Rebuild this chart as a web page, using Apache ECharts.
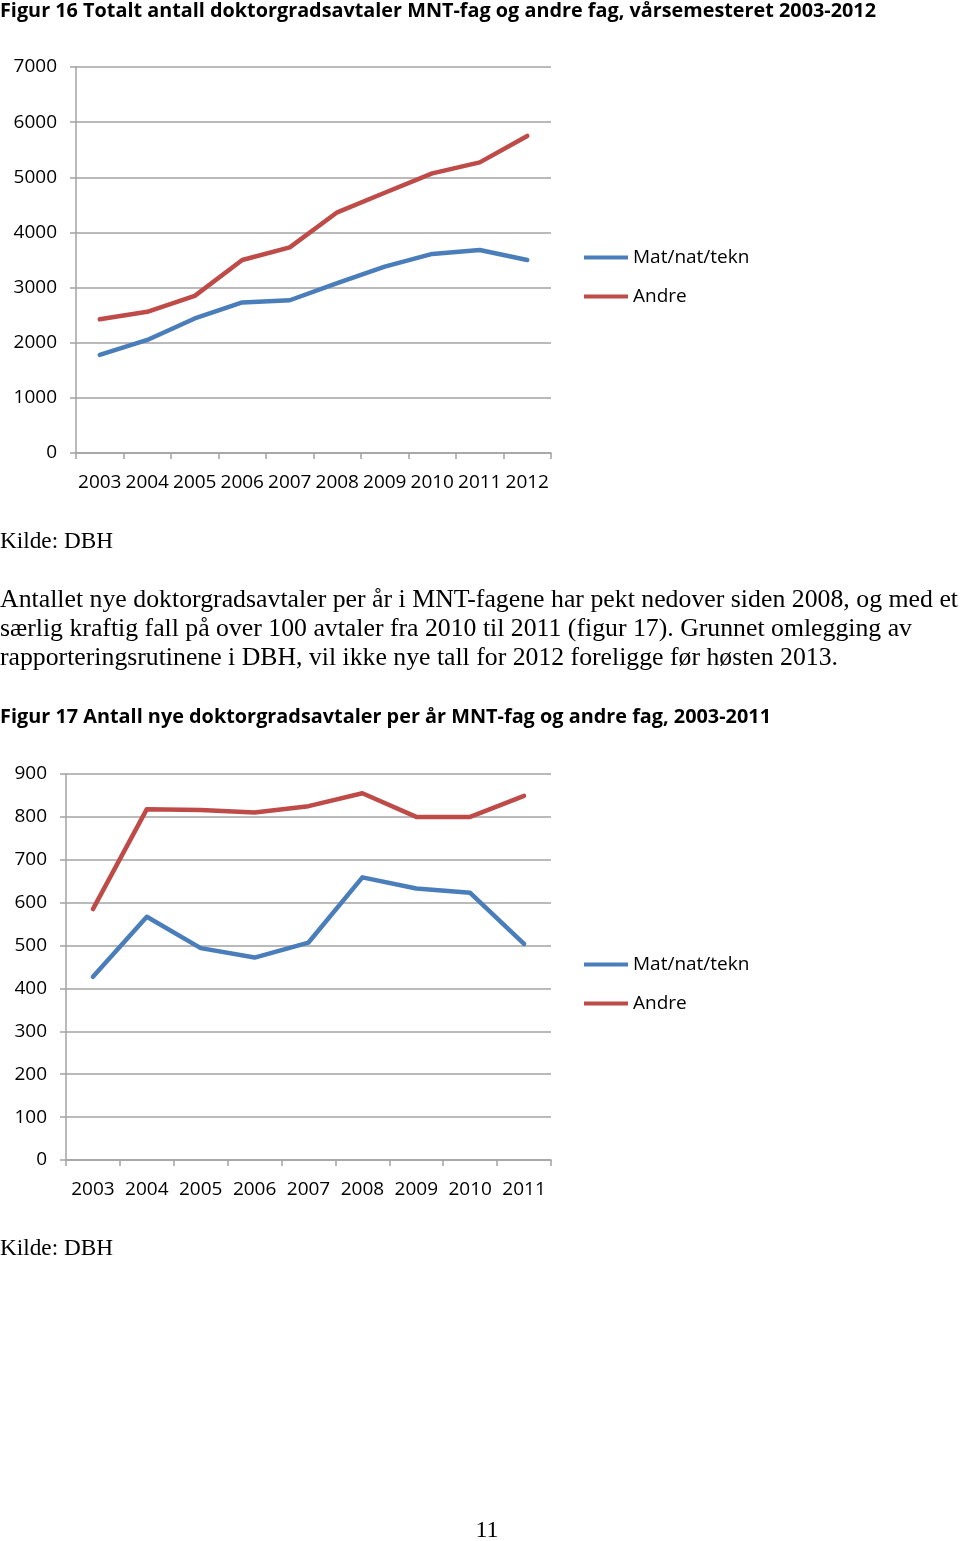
<!DOCTYPE html>
<html>
<head>
<meta charset="utf-8">
<script src="https://cdn.jsdelivr.net/npm/echarts@6/dist/echarts.min.js"></script>
<style>
html,body{margin:0;padding:0;background:#fff;}
#c{width:960px;height:1541px;}
</style>
</head>
<body>
<div id="c"></div>
<script>
// ---- data ----
const categories1 = ['2003','2004','2005','2006','2007','2008','2009','2010','2011','2012'];
const matnat1 = [1780, 2050, 2440, 2730, 2770, 3080, 3380, 3610, 3680, 3500];
const andre1  = [2425, 2560, 2850, 3500, 3730, 4365, 4720, 5070, 5270, 5750];
const yMax1 = 7000, yStep1 = 1000;

const categories2 = ['2003','2004','2005','2006','2007','2008','2009','2010','2011'];
const matnat2 = [427, 567, 494, 472, 507, 659, 633, 623, 504];
const andre2  = [585, 818, 816, 810, 825, 855, 800, 800, 849];
const yMax2 = 900, yStep2 = 100;

const seriesNames = ['Mat/nat/tekn', 'Andre'];

const title1 = 'Figur 16 Totalt antall doktorgradsavtaler MNT-fag og andre fag, vårsemesteret 2003-2012';
const title2 = 'Figur 17 Antall nye doktorgradsavtaler per år MNT-fag og andre fag, 2003-2011';
const bodyLines = [
  'Antallet nye doktorgradsavtaler per år i MNT-fagene har pekt nedover siden 2008, og med et',
  'særlig kraftig fall på over 100 avtaler fra 2010 til 2011 (figur 17). Grunnet omlegging av',
  'rapporteringsrutinene i DBH, vil ikke nye tall for 2012 foreligge før høsten 2013.'
];
const sourceText = 'Kilde: DBH';
const pageNumber = '11';

// ---- styling ----
const BLUE = '#4a7ebb', RED = '#be4b48', GRID = '#a3a3a3';
const axisFont = '"Open Sans", sans-serif';

const mc = document.createElement('canvas').getContext('2d');
function fitScale(text, font, width){ mc.font = font; return width / mc.measureText(text).width; }
function txt(text, x, y, font, width, align){
  const sx = width ? fitScale(text, font, width) : 1;
  return {type:'text', x:x, y:y, scaleX:sx, silent:true,
    style:{text:text, font:font, fill:'#000', align:align||'left', verticalAlign:'middle'}};
}
const titleFont = 'bold 20px "Open Sans", sans-serif';
const serifFont = '26px "Liberation Serif", serif';
const smallSerif = '24px "Liberation Serif", serif';
const graphics = [
  txt(title1, 0, 11, titleFont, 876),
  txt(title2, 0, 717, titleFont, 771),
  txt(sourceText, 0, 542, smallSerif, 113),
  txt(bodyLines[0], 0, 600, serifFont, 958),
  txt(bodyLines[1], 0, 629, serifFont, 912),
  txt(bodyLines[2], 0, 658, serifFont, 838),
  txt(sourceText, 0, 1249, smallSerif, 113),
  txt(pageNumber, 487, 1531, smallSerif, 0, 'center')
];

function xAxis(idx, cats){
  return {type:'category', gridIndex:idx, data:cats, boundaryGap:true,
    axisLine:{show:true, lineStyle:{color:GRID, width:1.5}},
    axisTick:{show:true, length:6, lineStyle:{color:GRID, width:1.5}},
    axisLabel:{color:'#000', fontFamily:axisFont, fontSize:19, margin:20, interval:0},
    splitLine:{show:false}};
}
function yAxis(idx, max, step){
  return {type:'value', gridIndex:idx, min:0, max:max, interval:step,
    axisLine:{show:true, lineStyle:{color:GRID, width:1.5}},
    axisTick:{show:true, length:6, lineStyle:{color:GRID, width:1.5}},
    axisLabel:{color:'#000', fontFamily:axisFont, fontSize:19, margin:19,
      formatter:function(v){ return String(v); }},
    splitLine:{show:true, lineStyle:{color:GRID, width:1.5}}};
}
function line(name, data, color, xi){
  return {type:'line', name:name, data:data, xAxisIndex:xi, yAxisIndex:xi,
    symbol:'none', smooth:false, color:color,
    lineStyle:{color:color, width:4.5, cap:'round', join:'round'},
    emphasis:{disabled:true}, animation:false};
}
function legend(top){
  return {data:seriesNames, orient:'vertical', left:584, top:top, padding:0, icon:'rect',
    itemWidth:44, itemHeight:4, itemGap:20, selectedMode:false,
    textStyle:{color:'#000', fontFamily:axisFont, fontSize:19, padding:[0,0,0,0]}};
}

const chart = echarts.init(document.getElementById('c'), null, {renderer:'canvas'});
chart.setOption({
  animation:false,
  backgroundColor:'#fff',
  grid:[
    {left:76, top:67, width:475, height:386},
    {left:66, top:774, width:485, height:386}
  ],
  xAxis:[xAxis(0, categories1), xAxis(1, categories2)],
  yAxis:[yAxis(0, yMax1, yStep1), yAxis(1, yMax2, yStep2)],
  legend:[legend(248), legend(955)],
  series:[
    line(seriesNames[0], matnat1, BLUE, 0),
    line(seriesNames[1], andre1, RED, 0),
    line(seriesNames[0], matnat2, BLUE, 1),
    line(seriesNames[1], andre2, RED, 1)
  ],
  graphic:graphics
});
</script>
</body>
</html>
